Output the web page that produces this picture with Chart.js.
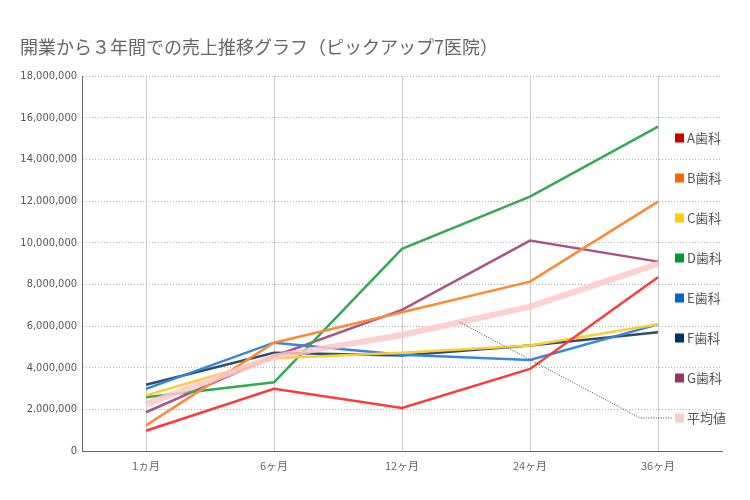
<!DOCTYPE html>
<html>
<head>
<meta charset="utf-8">
<script src="https://cdn.jsdelivr.net/npm/chart.js@4/dist/chart.umd.min.js"></script>
<style>
html,body{margin:0;padding:0;background:#fff;}
#wrap{width:750px;height:500px;position:relative;}
</style>
</head>
<body>
<div id="wrap"><canvas id="c" width="750" height="500"></canvas></div>
<script>
// ---- data ----
const chartTitle = '開業から３年間での売上推移グラフ（ピックアップ7医院）';
const categories = ['1ヵ月', '6ヶ月', '12ヶ月', '24ヶ月', '36ヶ月'];
const seriesNames = ['A歯科', 'B歯科', 'C歯科', 'D歯科', 'E歯科', 'F歯科', 'G歯科', '平均値'];
const clinicA = [970000, 2990000, 2070000, 3940000, 8340000];
const clinicB = [1230000, 5200000, 6660000, 8130000, 11970000];
const clinicC = [2670000, 4450000, 4720000, 5060000, 6080000];
const clinicD = [2580000, 3300000, 9700000, 12210000, 15570000];
const clinicE = [2980000, 5200000, 4620000, 4370000, 6080000];
const clinicF = [3180000, 4720000, 4580000, 5060000, 5700000];
const clinicG = [1860000, 4550000, 6770000, 10100000, 9090000];
const average = [2250000, 4530000, 5570000, 6930000, 8980000];
const yMin = 0, yMax = 18000000, yStep = 2000000;

// ---- styles ----
const lineColors = ['#ff3a3a', '#ff8a33', '#ffcc33', '#33aa55', '#3388dd', '#2f4c6e', '#aa5588', 'rgba(255,200,200,0.85)'];
const legendColors = ['#cc0000', '#ff6600', '#ffcc00', '#009933', '#0066cc', '#003366', '#993366', '#ffcccc'];
const allSeries = [clinicA, clinicB, clinicC, clinicD, clinicE, clinicF, clinicG, average];

const datasets = allSeries.map((d, i) => ({
  label: seriesNames[i],
  data: d,
  borderColor: lineColors[i],
  backgroundColor: lineColors[i],
  borderWidth: i === 7 ? 6 : 2.5,
  pointRadius: 0,
  pointHoverRadius: 0,
  tension: 0,
  fill: false,
  order: i === 7 ? -1 : i
}));

const decorPlugin = {
  id: 'decor',
  beforeDatasetDraw(chart, args) {
    if (args.index === 7) {
      chart.ctx.save();
      chart.ctx.filter = 'blur(0.7px)';
    }
  },
  afterDatasetDraw(chart, args) {
    if (args.index === 7) chart.ctx.restore();
  },
  afterDraw(chart) {
    const ctx = chart.ctx;
    ctx.save();
    // title
    ctx.font = '18px "Noto Sans CJK JP"';
    ctx.fillStyle = '#666';
    ctx.textBaseline = 'middle';
    ctx.textAlign = 'left';
    ctx.fillText(chartTitle, 20, 47);
    // legend
    ctx.font = '13px "Noto Sans CJK JP"';
    seriesNames.forEach((n, i) => {
      const y = 138 + 40 * i;
      ctx.fillStyle = legendColors[i];
      ctx.fillRect(675, y - 4.5, 9, 9);
      ctx.fillStyle = '#555';
      ctx.fillText(n, 687, y + 0.5);
    });
    // callout to average
    const xs = chart.scales.x, ys = chart.scales.y;
    const t = 0.45;
    const x0 = xs.getPixelForValue(2) + t * (xs.getPixelForValue(3) - xs.getPixelForValue(2));
    const y0 = ys.getPixelForValue(average[2] + t * (average[3] - average[2]));
    ctx.strokeStyle = '#444';
    ctx.lineWidth = 1;
    ctx.setLineDash([1, 1.5]);
    ctx.beginPath();
    ctx.moveTo(x0, y0);
    ctx.lineTo(640, 418);
    ctx.lineTo(672, 418);
    ctx.stroke();
    ctx.restore();
  }
};

new Chart(document.getElementById('c'), {
  type: 'line',
  data: { labels: categories, datasets },
  options: {
    responsive: false,
    animation: false,
    devicePixelRatio: 1,
    layout: { padding: { top: 76, right: 28, bottom: 0, left: 0 } },
    plugins: { legend: { display: false }, title: { display: false }, tooltip: { enabled: false } },
    scales: {
      x: {
        offset: true,
        grid: { color: '#cccccc', lineWidth: 1, drawTicks: false, offset: false },
        border: { color: '#666', width: 1 },
        ticks: { color: '#666', font: { family: '"Noto Sans CJK JP"', size: 11 }, padding: 8, maxRotation: 0 },
        afterFit(s) { s.height = 49; }
      },
      y: {
        min: yMin, max: yMax,
        grid: { color: '#b5b5b5', lineWidth: 1, drawTicks: false },
        border: { color: '#666', width: 1, dash: [1, 2] },
        ticks: {
          stepSize: yStep,
          color: '#555',
          padding: 5,
          font: { family: '"DejaVu Sans Condensed", "DejaVu Sans"', size: 11 },
          callback: v => v.toLocaleString('en-US')
        },
        afterFit(s) { s.width = 82; }
      }
    }
  },
  plugins: [decorPlugin]
});
</script>
</body>
</html>
